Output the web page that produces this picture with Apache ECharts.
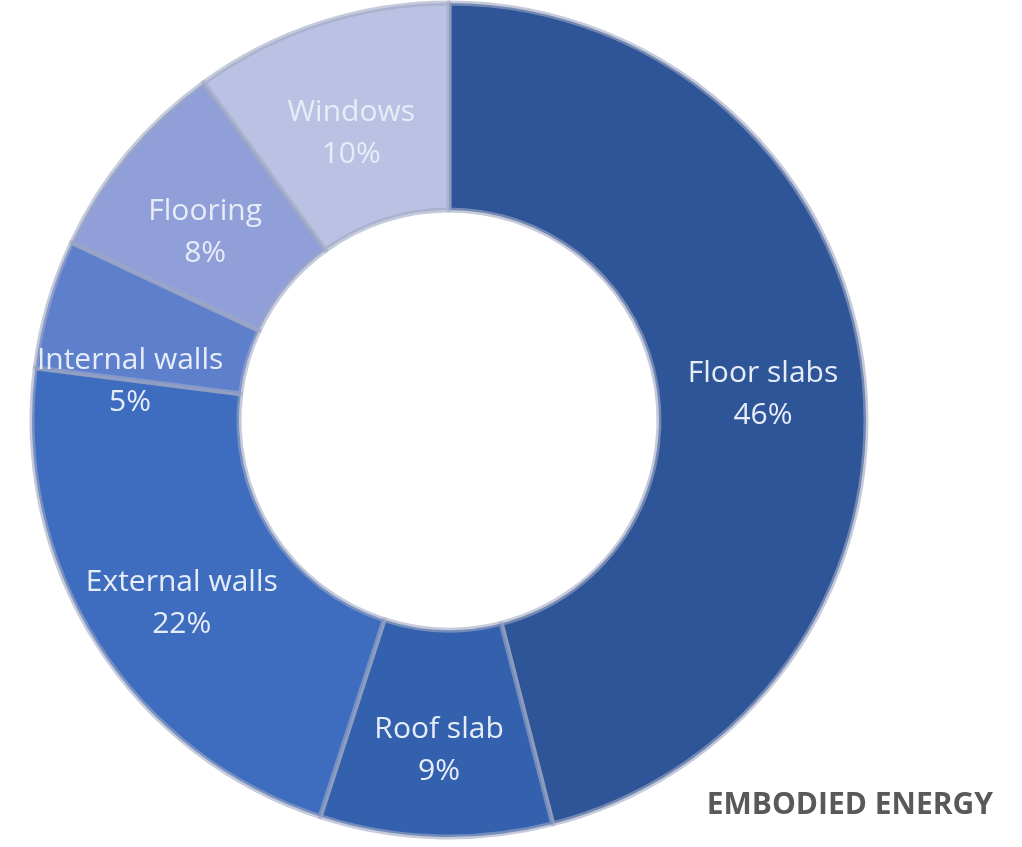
<!DOCTYPE html>
<html>
<head>
<meta charset="utf-8">
<script src="https://cdn.jsdelivr.net/npm/echarts@6/dist/echarts.min.js"></script>
<style>
  html, body { margin: 0; padding: 0; background: #fff; }
  #main { width: 1022px; height: 847px; }
</style>
</head>
<body>
<div id="main"></div>
<script>
  // slices, clockwise from 12 o'clock
  var names = ['Floor slabs', 'Roof slab', 'External walls', 'Internal walls', 'Flooring', 'Windows'];
  var shares = [46, 9, 22, 5, 8, 10];
  var colors = ['#2E5597', '#3461AE', '#3E6DBF', '#5E80CC', '#909FD7', '#BAC1E2'];

  var data = [];
  for (var i = 0; i < names.length; i++) {
    var item = { name: names[i], value: shares[i], itemStyle: { color: colors[i] } };
    // the small slice's label sits lower, across the boundary
    if (names[i] === 'Internal walls') item.label = { offset: [-15, 50] };
    data.push(item);
  }

  var myChart = echarts.init(document.getElementById('main'));
  var option = {
    backgroundColor: '#ffffff',
    title: {
      text: 'EMBODIED ENERGY',
      right: 24,
      top: 785,
      textStyle: {
        color: '#595959',
        fontFamily: 'Open Sans',
        fontWeight: 'bold',
        fontSize: 30
      }
    },
    series: [
      {
        type: 'pie',
        center: [449, 420],
        radius: [210, 417],
        startAngle: 90,
        clockwise: true,
        silent: true,
        animation: false,
        data: data,
        itemStyle: {
          borderColor: 'rgba(160,168,195,0.6)',
          borderWidth: 5
        },
        label: {
          position: 'inside',
          offset: [0, 14],
          formatter: function (p) { return p.name + '\n' + p.value + '%'; },
          color: '#E6ECF8',
          fontFamily: 'Open Sans',
          fontSize: 30,
          lineHeight: 42
        },
        labelLine: { show: false }
      }
    ]
  };
  myChart.setOption(option);
</script>
</body>
</html>
